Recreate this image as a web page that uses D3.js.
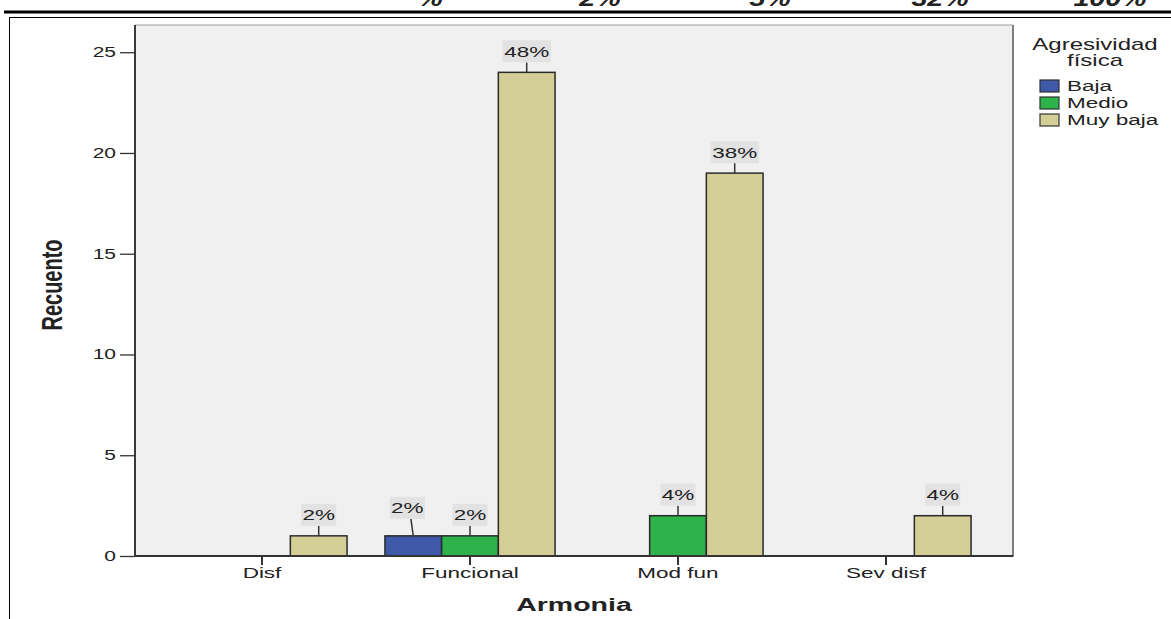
<!DOCTYPE html>
<html><head><meta charset="utf-8">
<script src="https://cdn.jsdelivr.net/npm/d3@7"></script>
<style>body{margin:0;background:#fff}svg{display:block}text{font-family:"Liberation Sans",Arial,sans-serif;fill:#222}</style>
</head><body><svg id="c" width="1171" height="619"></svg>
<script>
const categories = ["Disf", "Funcional", "Mod fun", "Sev disf"];
const seriesNames = ["Baja", "Medio", "Muy baja"];
const bajaValues = [0, 1, 0, 0];
const medioValues = [0, 1, 2, 0];
const muyBajaValues = [1, 24, 19, 2];
const bajaLabels = [null, "2%", null, null];
const medioLabels = [null, "2%", "4%", null];
const muyBajaLabels = ["2%", "48%", "38%", "4%"];
const yTicks = [0, 5, 10, 15, 20, 25];
const topRowLabels = ["%", "2%", "5%", "32%", "100%"];
const colors = ["#3d59a8", "#2db34a", "#d3cf97"];

const svg = d3.select("#c");
const SX = 1.5;
function stxt(g, x, y, str, size, anchor, weight, extra) {
  return g.append("text").attr("transform", `translate(${x},${y}) scale(${SX},1)` + (extra || ""))
    .attr("text-anchor", anchor).attr("font-size", size).attr("font-weight", weight || "normal").text(str);
}

// top clipped table remnants
const topX = d3.scalePoint().domain(topRowLabels).range([430, 1110]);
topRowLabels.forEach(t => {
  svg.append("text").attr("x", topX(t)).attr("y", 6).attr("text-anchor", "middle")
    .attr("font-size", 22).attr("font-style", "italic").attr("font-weight", "bold")
    .attr("transform", `translate(${topX(t)},0) scale(1.3,1) translate(${-topX(t)},0)`).text(t);
});
svg.append("line").attr("x1", 4).attr("x2", 1171).attr("y1", 12).attr("y2", 12).attr("stroke", "#000").attr("stroke-width", 3);
svg.append("line").attr("x1", 9).attr("x2", 1171).attr("y1", 17.5).attr("y2", 17.5).attr("stroke", "#000").attr("stroke-width", 1);
svg.append("line").attr("x1", 9.5).attr("x2", 9.5).attr("y1", 17).attr("y2", 619).attr("stroke", "#000").attr("stroke-width", 1);

const L = 135, R = 1013, T = 25, B = 556;
const y = d3.scaleLinear().domain([0, 26.35]).range([B, T]);
const x = d3.scaleBand().domain(categories).range([158, 990]);
const xs = d3.scaleBand().domain(seriesNames).range([0, x.bandwidth()]).paddingOuter(0.334);

svg.append("rect").attr("x", L).attr("y", T).attr("width", R - L).attr("height", B - T)
  .attr("fill", "#f0f0f0");

// y axis ticks
const yAxis = d3.axisLeft(y).tickValues(yTicks).tickSize(15).tickFormat("");
const ya = svg.append("g").attr("transform", `translate(${L},0)`).call(yAxis);
ya.select(".domain").remove();
ya.selectAll(".tick line").attr("stroke", "#333").attr("stroke-width", 1.3);
yTicks.forEach(v => stxt(svg, 116, y(v) + 5, String(v), 14, "end"));

// x axis ticks
const xAxis = d3.axisBottom(x).tickSize(9).tickFormat("");
const xa = svg.append("g").attr("transform", `translate(0,${B})`).call(xAxis);
xa.select(".domain").remove();
xa.selectAll(".tick line").attr("stroke", "#333").attr("stroke-width", 2);
categories.forEach(c => stxt(svg, x(c) + x.bandwidth() / 2, 578, c, 15, "middle"));

// bars
const seriesValues = [bajaValues, medioValues, muyBajaValues];
const seriesLabels = [bajaLabels, medioLabels, muyBajaLabels];
const bars = svg.append("g");
const labels = svg.append("g");
seriesNames.forEach((s, si) => {
  categories.forEach((c, ci) => {
    const v = seriesValues[si][ci];
    if (!v) return;
    const bx = x(c) + xs(s), bw = xs.bandwidth();
    bars.append("rect").attr("x", bx).attr("y", y(v)).attr("width", bw).attr("height", y(0) - y(v))
      .attr("fill", colors[si]).attr("stroke", "#2a2a2a").attr("stroke-width", 1.5);
    const lab = seriesLabels[si][ci];
    if (!lab) return;
    const cx = bx + bw / 2;
    // special offset for crowded Funcional pair
    const shift = (si === 0 && ci === 1) ? -6 : 0;
    const lift = (si === 0 && ci === 1) ? 7 : 0;
    const top = y(v) - 10 - lift;
    labels.append("line").attr("x1", cx).attr("y1", y(v)).attr("x2", cx + shift * 0.4).attr("y2", top)
      .attr("stroke", "#333").attr("stroke-width", 1.5);
    const tw = lab.length * 13.5 + 8;
    labels.append("rect").attr("x", cx + shift - tw / 2).attr("y", top - 22).attr("width", tw).attr("height", 22)
      .attr("fill", "#e2e2e2");
    stxt(labels, cx + shift, top - 5.5, lab, 15, "middle");
  });
});

// frame
svg.append("path").attr("d", `M${L},${T}V${B}H${R}V${T}`).attr("fill", "none").attr("stroke", "#555").attr("stroke-width", 1.5);
svg.append("line").attr("x1", L).attr("x2", R).attr("y1", T).attr("y2", T).attr("stroke", "#999").attr("stroke-width", 1);
svg.append("line").attr("x1", L).attr("x2", R).attr("y1", B).attr("y2", B).attr("stroke", "#333").attr("stroke-width", 1.8);
svg.append("line").attr("x1", L).attr("x2", L).attr("y1", T).attr("y2", B).attr("stroke", "#333").attr("stroke-width", 1.8);

// axis titles
stxt(svg, 574, 611, "Armonia", 19, "middle", "bold");
svg.append("text").attr("transform", `translate(62,285) scale(${SX},1) rotate(-90)`)
  .attr("text-anchor", "middle").attr("font-size", 20).attr("font-weight", "bold").text("Recuento");

// legend
const lg = svg.append("g");
stxt(lg, 1095, 50, "Agresividad", 16, "middle");
stxt(lg, 1095, 66, "física", 16, "middle");
seriesNames.forEach((s, i) => {
  const cy = 86 + i * 17;
  lg.append("rect").attr("x", 1040).attr("y", cy - 6).attr("width", 19).attr("height", 12)
    .attr("fill", colors[i]).attr("stroke", "#333").attr("stroke-width", 1.2);
  stxt(lg, 1067, cy + 5, s, 15, "start");
});
</script></body></html>
